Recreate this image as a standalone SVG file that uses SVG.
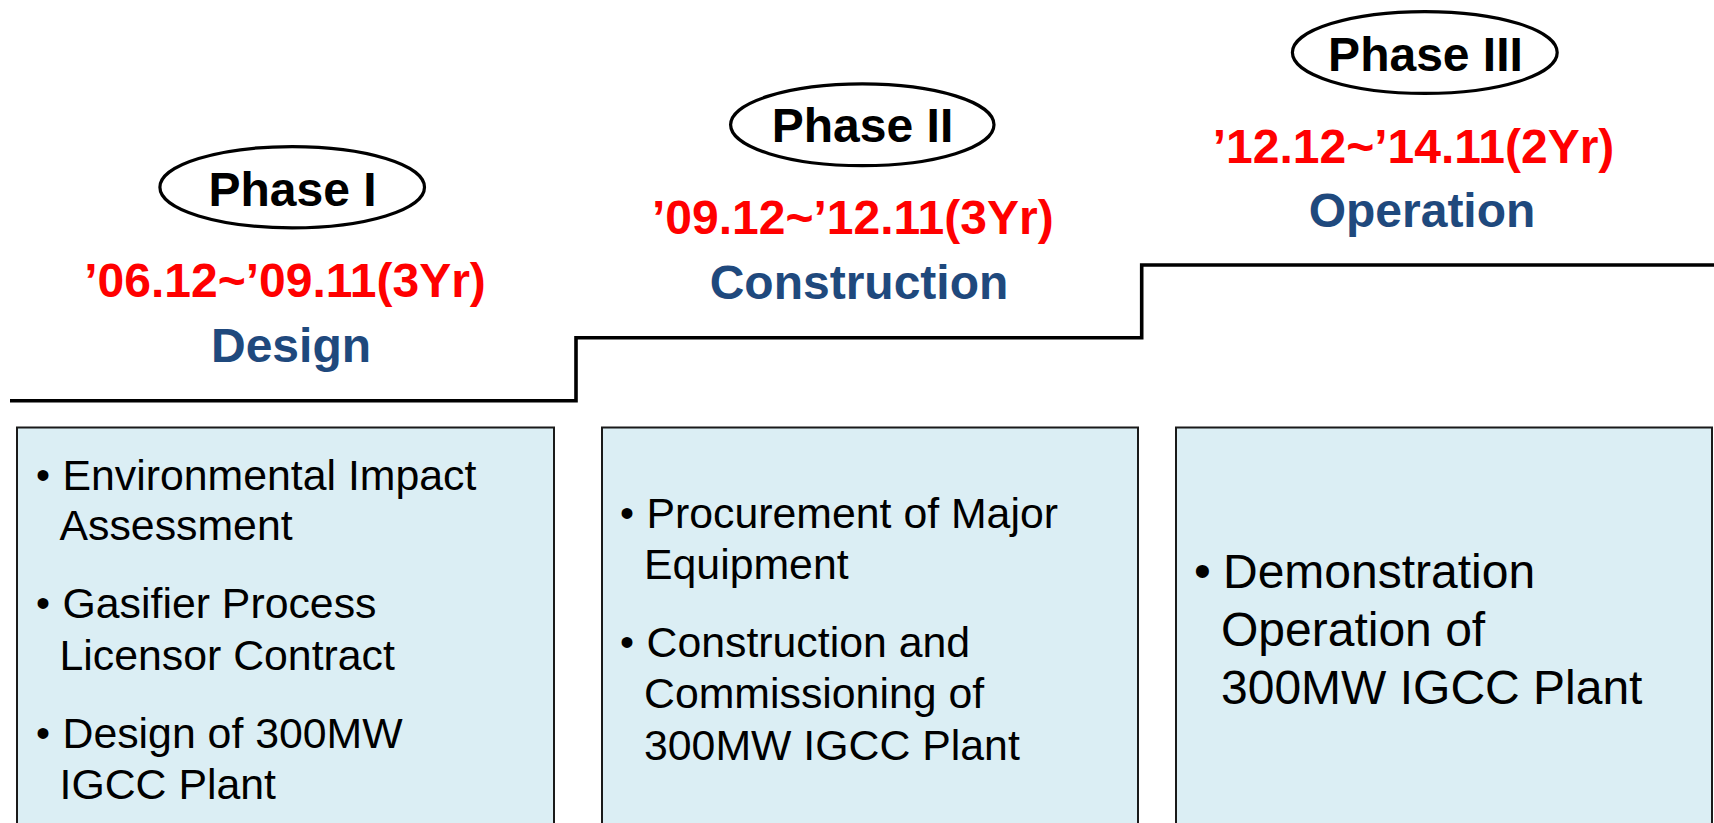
<svg xmlns="http://www.w3.org/2000/svg" width="1714" height="823" viewBox="0 0 1714 823">
<style>
.bg{fill:#ffffff}
.oval{fill:#ffffff;stroke:#000000;stroke-width:3.2}
.ph{font-family:"Liberation Sans",Arial,sans-serif;font-weight:bold;font-size:48px;fill:#000000;text-anchor:middle}
.dt{font-family:"Liberation Sans",Arial,sans-serif;font-weight:bold;font-size:48px;fill:#ff0000;text-anchor:middle}
.st{font-family:"Liberation Sans",Arial,sans-serif;font-weight:bold;font-size:48px;fill:#1f497d;text-anchor:middle}
.step{fill:none;stroke:#000000;stroke-width:3.6;stroke-linejoin:miter}
.box{fill:#dbeef4;stroke:#1a1a1a;stroke-width:2}
.bt{font-family:"Liberation Sans",Arial,sans-serif;font-size:42.8px;fill:#000000}
.bt3{font-family:"Liberation Sans",Arial,sans-serif;font-size:48px;fill:#000000}
.bul{font-family:"Liberation Sans",Arial,sans-serif;font-size:40px;fill:#000000}
.bul3{font-family:"Liberation Sans",Arial,sans-serif;font-size:48px;fill:#000000}
</style>
<rect class="bg" x="0" y="0" width="1714" height="823"/>
<g id="connectors">
<path class="step" d="M10,400.7 H576 V337.7 H1141.7 V265 H1714"/>
</g>
<g id="phase1-header">
<ellipse class="oval" cx="292.2" cy="187.2" rx="132.3" ry="40.6"/>
<text class="ph" x="292.5" y="206">Phase I</text>
<text class="dt" x="285" y="296.7">’06.12~’09.11(3Yr)</text>
<text class="st" x="291" y="361.7">Design</text>
</g>
<g id="phase2-header">
<ellipse class="oval" cx="862.3" cy="124.8" rx="131.7" ry="40.9"/>
<text class="ph" x="862.5" y="142.3">Phase II</text>
<text class="dt" x="852.8" y="234.3">’09.12~’12.11(3Yr)</text>
<text class="st" x="859" y="299.3">Construction</text>
</g>
<g id="phase3-header">
<ellipse class="oval" cx="1424.8" cy="52.5" rx="132.4" ry="40.9"/>
<text class="ph" x="1425.5" y="70.7">Phase III</text>
<text class="dt" x="1413.5" y="163.3">’12.12~’14.11(2Yr)</text>
<text class="st" x="1422" y="226.7">Operation</text>
</g>
<g id="box1">
<rect class="box" x="17" y="427.5" width="537" height="420"/>
<text class="bul" x="36" y="489">•</text>
<text class="bt" x="62.5" y="490">Environmental Impact</text>
<text class="bt" x="59.5" y="540">Assessment</text>
<text class="bul" x="36" y="617.3">•</text>
<text class="bt" x="62.5" y="618.3">Gasifier Process</text>
<text class="bt" x="59.5" y="670">Licensor Contract</text>
<text class="bul" x="36" y="747.3">•</text>
<text class="bt" x="62.5" y="748.3">Design of 300MW</text>
<text class="bt" x="59.5" y="799">IGCC Plant</text>
</g>
<g id="box2">
<rect class="box" x="602" y="427.5" width="536" height="420"/>
<text class="bul" x="620" y="527.3">•</text>
<text class="bt" x="646.5" y="528.3">Procurement of Major</text>
<text class="bt" x="644" y="579.3">Equipment</text>
<text class="bul" x="620" y="656.3">•</text>
<text class="bt" x="646.5" y="657.3">Construction and</text>
<text class="bt" x="644" y="708.3">Commissioning of</text>
<text class="bt" x="644" y="760">300MW IGCC Plant</text>
</g>
<g id="box3">
<rect class="box" x="1176" y="427.5" width="536" height="420"/>
<text class="bul3" x="1194" y="587">•</text>
<text class="bt3" x="1223" y="588.3">Demonstration</text>
<text class="bt3" x="1221" y="646">Operation of</text>
<text class="bt3" x="1221" y="704">300MW IGCC Plant</text>
</g>
</svg>
